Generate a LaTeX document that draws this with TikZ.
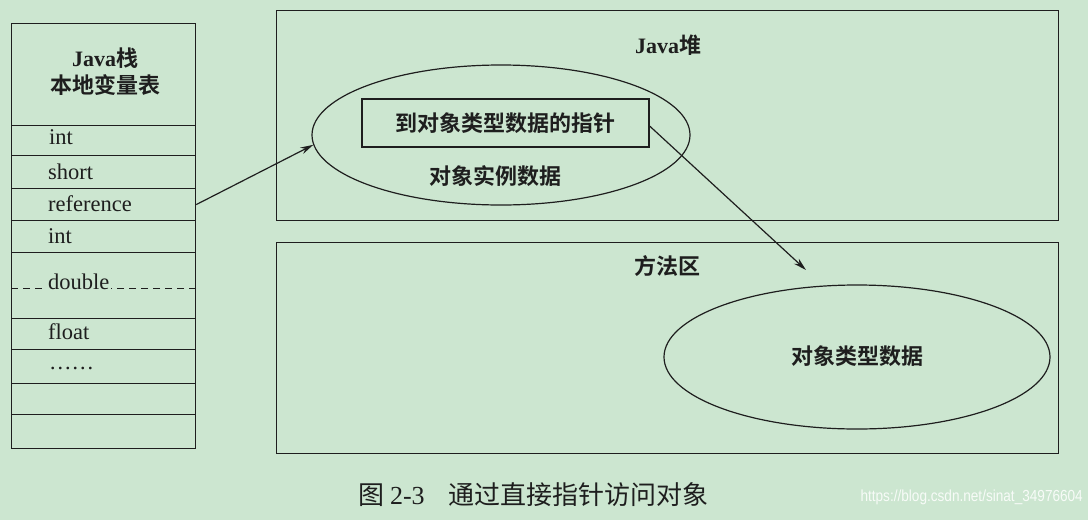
\documentclass[tikz,border=0pt]{standalone}
\usepackage{fontspec}
\setmainfont{Liberation Serif}
\newfontfamily\cjk{Noto Sans CJK SC}[BoldFont={* Bold}]
\newfontfamily\cjkcap{Noto Sans CJK SC}
\newfontfamily\wmfont{Liberation Sans}
\usetikzlibrary{shapes.geometric,arrows.meta}
\definecolor{bg}{RGB}{204,230,208}
\definecolor{ink}{RGB}{30,30,30}
\newcommand{\lj}[1]{{\rmfamily\bfseries #1}}
\tikzset{
  box/.style={draw=ink, line width=1.2pt, rectangle, inner sep=0pt},
  oval/.style={draw=ink, line width=1.2pt, ellipse, inner sep=0pt},
  lat/.style={font=\fontsize{22.5}{26}\selectfont, text=ink, inner sep=0pt, anchor=west},
  zh/.style={font=\fontsize{22}{28}\selectfont\cjk\bfseries, text=ink, inner sep=0pt},
  link/.style={draw=ink, line width=1.2pt, -{Stealth[length=13pt,width=7pt]}},
  dashln/.style={draw=ink, line width=1pt, dash pattern=on 7pt off 5pt},
}
\begin{document}
\begin{tikzpicture}[x=1pt,y=-1pt]
\fill[bg] (0,0) rectangle (1088,520);
\useasboundingbox (0,0) rectangle (1088,520);
% Java stack cells
\node[box, minimum width=184pt, minimum height=102pt, anchor=north west] (hdr) at (11,23) {};
\node[box, minimum width=184pt, minimum height=30pt, anchor=north west] (c1) at (11,125) {};
\node[box, minimum width=184pt, minimum height=33pt, anchor=north west] (c2) at (11,155) {};
\node[box, minimum width=184pt, minimum height=32pt, anchor=north west] (c3) at (11,188) {};
\node[box, minimum width=184pt, minimum height=32pt, anchor=north west] (c4) at (11,220) {};
\node[box, minimum width=184pt, minimum height=66pt, anchor=north west] (c5) at (11,252) {};
\node[box, minimum width=184pt, minimum height=31pt, anchor=north west] (c6) at (11,318) {};
\node[box, minimum width=184pt, minimum height=34pt, anchor=north west] (c7) at (11,349) {};
\node[box, minimum width=184pt, minimum height=31pt, anchor=north west] (c8) at (11,383) {};
\node[box, minimum width=184pt, minimum height=34pt, anchor=north west] (c9) at (11,414) {};
\node[zh] (t0a) at (105,58) {\lj{Java}栈};
\node[zh] (t0b) at (105,85) {本地变量表};
\node[lat] (t1) at (49,137) {int};
\node[lat] (t2) at (48,172) {short};
\node[lat] (t3) at (48,204) {reference};
\node[lat] (t4) at (48,236) {int};
\node[lat] (t5) at (48,282) {double};
\node[lat] (t6) at (48,332) {float};
\node[lat] (t7) at (49,368) {……};
\draw[dashln] (c5.west |- 0,288) -- ([xshift=-1pt]t5.west |- 0,288);
\draw[dashln] (c5.east |- 0,288) -- ([xshift=1pt]t5.east |- 0,288);
% Java heap
\node[box, minimum width=782pt, minimum height=210pt, anchor=north west] (heap) at (276,10) {};
\node[zh] (heapt) at (668,45) {\lj{Java}堆};
\node[oval, minimum width=378pt, minimum height=140pt] (obj) at (501,135) {};
\node[box, minimum width=287pt, minimum height=48pt] (ptr) at (505.5,123) {};
\node[zh] (ptrt) at (ptr) {到对象类型数据的指针};
\node[zh] (objt) at (495,176) {对象实例数据};
% Method area
\node[box, minimum width=782pt, minimum height=211pt, anchor=north west] (meth) at (276,242) {};
\node[zh] (metht) at (667,266) {方法区};
\node[oval, minimum width=386pt, minimum height=144pt] (cls) at (857,357) {};
\node[zh] (clst) at (857,356) {对象类型数据};
% connectors
\coordinate (tip) at (806,270);
\draw[link] (c3.east) -- (obj.183);
\draw[link] (ptr.east) ++(0,3) -- (tip);
% caption
\node[font=\fontsize{26}{30}\selectfont\cjkcap, text=ink, inner sep=0pt, anchor=west] (cap) at (358,495) {图 {\rmfamily 2-3}\hspace{24pt}通过直接指针访问对象};
\node[font=\fontsize{16}{20}\selectfont\wmfont, text=white, opacity=0.85, inner sep=0pt, anchor=east, xscale=0.85] (wm) at (1083,497) {https://blog.csdn.net/sinat\_34976604};
\end{tikzpicture}
\end{document}
